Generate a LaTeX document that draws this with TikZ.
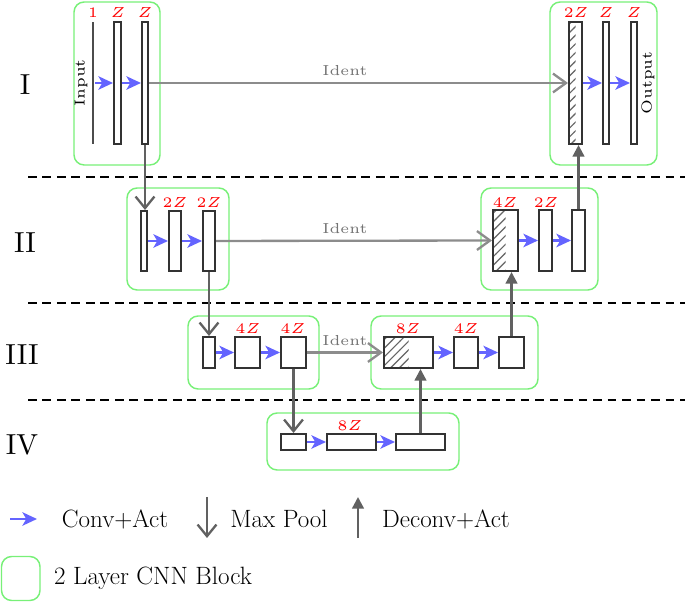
\documentclass[tikz,border=0pt]{standalone}
\usepackage{graphicx}
\usetikzlibrary{arrows.meta,fit,patterns}
\definecolor{cnngreen}{RGB}{120,240,120}
\definecolor{convblue}{RGB}{100,100,255}
\begin{document}
\begin{tikzpicture}[x=0.345pt,y=-0.345pt,
  blk/.style={draw=cnngreen, line width=0.5pt, rounded corners=3.5pt, inner sep=0pt},
  bar/.style={draw=black!80, fill=white, line width=0.7pt, inner sep=0pt},
  hatch/.style={bar, path picture={\fill[pattern=north east lines, pattern color=black!60] (path picture bounding box.south west) rectangle (path picture bounding box.north);}},
  conv/.style={draw=convblue, line width=1pt, -{Stealth[length=5pt,width=4.6pt,inset=1.3pt]}},
  ident/.style={draw=black!45, line width=0.8pt, -{Straight Barb[length=4.5pt,width=6.5pt]}},
  pool/.style={draw=black!62, line width=0.8pt, -{Straight Barb[length=4pt,width=6.5pt]}},
  deconv/.style={draw=black!62, line width=0.8pt, -{Triangle[length=4pt,width=4pt]}},
  lab/.style={text=red, font=\tiny, inner sep=0pt},
  identlab/.style={text=black!55, font=\tiny, inner sep=0pt},
  lvl/.style={font=\normalsize, inner sep=0pt},
  sepline/.style={draw=black, line width=0.5pt, dash pattern=on 3pt off 2pt},
  legtext/.style={inner sep=0pt}
]
\useasboundingbox (0,0) rectangle (685,602);

% level labels
\node[lvl] (L1) at (25,85) {I};
\node[lvl] (L2) at (25,243) {II};
\node[lvl] (L3) at (22,355) {III};
\node[lvl] (L4) at (22,445) {IV};

% separators
\coordinate (s1a) at (28,177); \coordinate (s1b) at (685,177);
\coordinate (s2a) at (28,303); \coordinate (s2b) at (685,303);
\coordinate (s3a) at (28,400); \coordinate (s3b) at (685,400);
\draw[sepline] (s1a) -- (s1b);
\draw[sepline] (s2a) -- (s2b);
\draw[sepline] (s3a) -- (s3b);

% blocks
\node[blk, fit={(74,2) (160,165)}] (B1L) {};
\node[blk, fit={(550,2) (657,165)}] (B1R) {};
\node[blk, fit={(127,188) (229,290)}] (B2L) {};
\node[blk, fit={(481,188) (598,290)}] (B2R) {};
\node[blk, fit={(188,316) (319,389)}] (B3L) {};
\node[blk, fit={(371,316) (538,389)}] (B3R) {};
\node[blk, fit={(267,413) (459,470)}] (B4) {};

% level I
\node[inner sep=0pt, fit={(93,23) (93,143)}] (in) {};
\draw[black!70, line width=0.6pt] (in.north) -- (in.south);
\node[bar, fit={(114,22) (121,144)}] (Ia) {};
\node[bar, fit={(142,22) (148,144)}] (Ib) {};
\node[lab] (l1) at (93,13) {$1$};
\node[lab] (l2) at (118,13) {$Z$};
\node[lab] (l3) at (145,13) {$Z$};
\node[font=\tiny, inner sep=0pt, rotate=90] (inlab) at (81,83) {Input};

\node[hatch, fit={(569,22) (582,144)}] (Ra) {};
\node[bar, fit={(603,22) (609,144)}] (Rb) {};
\node[bar, fit={(631,22) (637,144)}] (Rc) {};
\node[lab] (r1) at (576,13) {$2Z$};
\node[lab] (r2) at (606,13) {$Z$};
\node[lab] (r3) at (634,13) {$Z$};
\node[font=\tiny, inner sep=0pt, rotate=90] (outlab) at (648,83) {Output};

% level II
\node[bar, fit={(141,211) (147,271)}] (IIa) {};
\node[bar, fit={(169,211) (181,271)}] (IIb) {};
\node[bar, fit={(203,211) (215,271)}] (IIc) {};
\node[lab] (m1) at (175,203) {$2Z$};
\node[lab] (m2) at (209,203) {$2Z$};

\node[hatch, fit={(493,210) (518,271)}] (IIRa) {};
\node[bar, fit={(539,210) (552,271)}] (IIRb) {};
\node[bar, fit={(572,210) (585,271)}] (IIRc) {};
\node[lab] (n1) at (505,203) {$4Z$};
\node[lab] (n2) at (546,203) {$2Z$};

% level III
\node[bar, fit={(203,337) (215,368)}] (IIIa) {};
\node[bar, fit={(235,337) (260,368)}] (IIIb) {};
\node[bar, fit={(281,337) (306,368)}] (IIIc) {};
\node[lab] (p1) at (248,329) {$4Z$};
\node[lab] (p2) at (293,329) {$4Z$};

\node[hatch, fit={(384,337) (433,368)}] (IIIRa) {};
\node[bar, fit={(454,337) (478,368)}] (IIIRb) {};
\node[bar, fit={(499,337) (524,368)}] (IIIRc) {};
\node[lab] (q1) at (408,329) {$8Z$};
\node[lab] (q2) at (466,329) {$4Z$};

% level IV
\node[bar, fit={(281,434) (306,450)}] (IVa) {};
\node[bar, fit={(327,434) (376,450)}] (IVb) {};
\node[bar, fit={(396,434) (445,450)}] (IVc) {};
\node[lab] (v1) at (350,426) {$8Z$};

% conv arrows
\draw[conv] (in.east) -- (Ia.west);
\draw[conv] (Ia.east) -- (Ib.west);
\draw[conv] (Ra.east) -- (Rb.west);
\draw[conv] (Rb.east) -- (Rc.west);
\draw[conv] (IIa.east) -- (IIb.west);
\draw[conv] (IIb.east) -- (IIc.west);
\draw[conv] (IIRa.east) -- (IIRb.west);
\draw[conv] (IIRb.east) -- (IIRc.west);
\draw[conv] (IIIa.east) -- (IIIb.west);
\draw[conv] (IIIb.east) -- (IIIc.west);
\draw[conv] (IIIRa.east) -- (IIIRb.west);
\draw[conv] (IIIRb.east) -- (IIIRc.west);
\draw[conv] (IVa.east) -- (IVb.west);
\draw[conv] (IVb.east) -- (IVc.west);

% identity connections
\draw[ident] (Ib.east) -- (Ra.west);
\node[identlab] (id1) at (345,71) {Ident};
\draw[ident] (IIc.east) -- (IIRa.west);
\node[identlab] (id2) at (345,229) {Ident};
\draw[ident] (IIIc.east) -- (IIIRa.west);
\node[identlab] (id3) at (345,341) {Ident};

% max pool
\draw[pool] (Ib.south) -- (Ib.south |- IIa.north);
\draw[pool] (IIc.south) -- (IIc.south |- IIIa.north);
\draw[pool] (IIIc.south) -- (IIIc.south |- IVa.north);

% deconv
\draw[deconv] (IVc.north) -- (IVc.north |- IIIRa.south);
\draw[deconv] (IIIRc.north) -- (IIIRc.north |- IIRa.south);
\draw[deconv] (IIRc.north) -- (IIRc.north |- Ra.south);

% legend
\coordinate (lc1) at (10,519); \coordinate (lc2) at (37,519);
\draw[conv] (lc1) -- (lc2);
\node[legtext] (t1) at (115,519) {\scalebox{0.5}{\LARGE Conv+Act}};
\coordinate (lp1) at (207,497); \coordinate (lp2) at (207,538);
\draw[pool] (lp1) -- (lp2);
\node[legtext] (t2) at (279,519) {\scalebox{0.5}{\LARGE Max Pool}};
\coordinate (ld1) at (358,538); \coordinate (ld2) at (358,497);
\draw[deconv] (ld1) -- (ld2);
\node[legtext] (t3) at (446,519) {\scalebox{0.5}{\LARGE Deconv+Act}};
\node[blk, fit={(1.5,556.5) (40,600.5)}] (lb) {};
\node[legtext] (t4) at (153,578) {\scalebox{0.5}{\LARGE 2 Layer CNN Block}};
\end{tikzpicture}
\end{document}
